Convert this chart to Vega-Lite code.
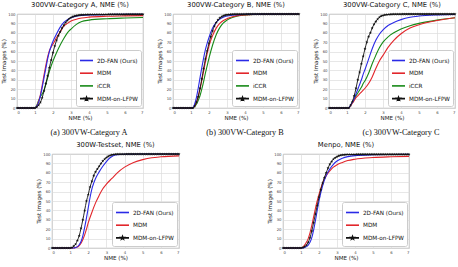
{
  "$schema": "https://vega.github.io/schema/vega-lite/v6.json",
  "padding": {"left": 0, "top": 1, "right": 0, "bottom": 0},
  "background": "white",
  "datasets": {
    "a_fan": [{"nme":0,"pct":0},{"nme":1,"pct":0},{"nme":1.1,"pct":2},{"nme":1.2,"pct":6},{"nme":1.3,"pct":13},{"nme":1.4,"pct":22},{"nme":1.5,"pct":32},{"nme":1.6,"pct":42},{"nme":1.7,"pct":52},{"nme":1.8,"pct":60},{"nme":1.9,"pct":66},{"nme":2,"pct":71},{"nme":2.2,"pct":79},{"nme":2.4,"pct":86},{"nme":2.6,"pct":91},{"nme":2.8,"pct":94},{"nme":3,"pct":96},{"nme":3.3,"pct":97.7},{"nme":3.6,"pct":98.5},{"nme":4,"pct":99},{"nme":5,"pct":99.4},{"nme":6,"pct":99.6},{"nme":7,"pct":99.7}],
    "a_mdm": [{"nme":0,"pct":0},{"nme":1,"pct":0},{"nme":1.1,"pct":2},{"nme":1.2,"pct":7},{"nme":1.3,"pct":14},{"nme":1.4,"pct":24},{"nme":1.5,"pct":35},{"nme":1.6,"pct":45},{"nme":1.7,"pct":54},{"nme":1.8,"pct":61},{"nme":1.9,"pct":65},{"nme":2,"pct":68},{"nme":2.2,"pct":75},{"nme":2.4,"pct":81},{"nme":2.6,"pct":87},{"nme":2.8,"pct":90},{"nme":3,"pct":92.5},{"nme":3.3,"pct":94.5},{"nme":3.6,"pct":95.8},{"nme":4,"pct":96.7},{"nme":5,"pct":97.6},{"nme":6,"pct":98},{"nme":7,"pct":98.3}],
    "a_iccr": [{"nme":0,"pct":0},{"nme":1,"pct":0},{"nme":1.1,"pct":3},{"nme":1.2,"pct":8},{"nme":1.3,"pct":12},{"nme":1.4,"pct":15},{"nme":1.5,"pct":19},{"nme":1.6,"pct":25},{"nme":1.7,"pct":32},{"nme":1.8,"pct":39},{"nme":1.9,"pct":45},{"nme":2,"pct":50},{"nme":2.2,"pct":59},{"nme":2.4,"pct":67},{"nme":2.6,"pct":74},{"nme":2.8,"pct":80},{"nme":3,"pct":84},{"nme":3.3,"pct":89},{"nme":3.6,"pct":92},{"nme":4,"pct":93.5},{"nme":5,"pct":95},{"nme":6,"pct":95.7},{"nme":7,"pct":96.2}],
    "a_lfpw": [{"nme":0,"pct":0},{"nme":0.1,"pct":0},{"nme":0.2,"pct":0},{"nme":0.3,"pct":0},{"nme":0.4,"pct":0},{"nme":0.5,"pct":0},{"nme":0.6,"pct":0},{"nme":0.7,"pct":0},{"nme":0.8,"pct":0},{"nme":0.9,"pct":0},{"nme":1,"pct":0},{"nme":1.1,"pct":1},{"nme":1.2,"pct":3},{"nme":1.3,"pct":6},{"nme":1.4,"pct":11},{"nme":1.5,"pct":18},{"nme":1.6,"pct":26},{"nme":1.7,"pct":34},{"nme":1.8,"pct":43},{"nme":1.9,"pct":51},{"nme":2,"pct":59},{"nme":2.1,"pct":66},{"nme":2.2,"pct":72},{"nme":2.3,"pct":77},{"nme":2.4,"pct":81},{"nme":2.5,"pct":85},{"nme":2.6,"pct":88},{"nme":2.7,"pct":91},{"nme":2.8,"pct":93},{"nme":2.9,"pct":95},{"nme":3,"pct":96.3},{"nme":3.1,"pct":97.2},{"nme":3.2,"pct":97.8},{"nme":3.3,"pct":98.3},{"nme":3.4,"pct":98.6},{"nme":3.5,"pct":98.9},{"nme":3.6,"pct":99.1},{"nme":3.7,"pct":99.2},{"nme":3.8,"pct":99.3},{"nme":3.9,"pct":99.4},{"nme":4,"pct":99.4},{"nme":4.1,"pct":99.5},{"nme":4.2,"pct":99.5},{"nme":4.3,"pct":99.5},{"nme":4.4,"pct":99.5},{"nme":4.5,"pct":99.5},{"nme":4.6,"pct":99.5},{"nme":4.7,"pct":99.5},{"nme":4.8,"pct":99.5},{"nme":4.9,"pct":99.5},{"nme":5,"pct":99.5},{"nme":5.1,"pct":99.6},{"nme":5.2,"pct":99.6},{"nme":5.3,"pct":99.6},{"nme":5.4,"pct":99.6},{"nme":5.5,"pct":99.6},{"nme":5.6,"pct":99.6},{"nme":5.7,"pct":99.6},{"nme":5.8,"pct":99.6},{"nme":5.9,"pct":99.6},{"nme":6,"pct":99.6},{"nme":6.1,"pct":99.7},{"nme":6.2,"pct":99.7},{"nme":6.3,"pct":99.7},{"nme":6.4,"pct":99.7},{"nme":6.5,"pct":99.7},{"nme":6.6,"pct":99.7},{"nme":6.7,"pct":99.7},{"nme":6.8,"pct":99.7},{"nme":6.9,"pct":99.7},{"nme":7,"pct":99.7}],
    "b_fan": [{"nme":0,"pct":0},{"nme":1.1,"pct":0},{"nme":1.2,"pct":4},{"nme":1.3,"pct":11},{"nme":1.4,"pct":21},{"nme":1.5,"pct":32},{"nme":1.6,"pct":43},{"nme":1.7,"pct":53},{"nme":1.8,"pct":62},{"nme":1.9,"pct":69},{"nme":2,"pct":75},{"nme":2.2,"pct":85},{"nme":2.4,"pct":91},{"nme":2.6,"pct":94.5},{"nme":2.8,"pct":96.5},{"nme":3,"pct":97.8},{"nme":3.3,"pct":98.8},{"nme":3.6,"pct":99.3},{"nme":4,"pct":99.6},{"nme":5,"pct":99.9},{"nme":7,"pct":100}],
    "b_mdm": [{"nme":0,"pct":0},{"nme":1.1,"pct":0},{"nme":1.2,"pct":2},{"nme":1.3,"pct":6},{"nme":1.4,"pct":12},{"nme":1.5,"pct":20},{"nme":1.6,"pct":29},{"nme":1.7,"pct":39},{"nme":1.8,"pct":49},{"nme":1.9,"pct":58},{"nme":2,"pct":66},{"nme":2.2,"pct":77},{"nme":2.4,"pct":85},{"nme":2.6,"pct":90},{"nme":2.8,"pct":93},{"nme":3,"pct":95},{"nme":3.3,"pct":97},{"nme":3.6,"pct":98.3},{"nme":4,"pct":99.1},{"nme":5,"pct":99.8},{"nme":7,"pct":100}],
    "b_iccr": [{"nme":0,"pct":0},{"nme":1.1,"pct":0},{"nme":1.2,"pct":1.5},{"nme":1.3,"pct":4},{"nme":1.4,"pct":8},{"nme":1.5,"pct":13},{"nme":1.6,"pct":20},{"nme":1.7,"pct":28},{"nme":1.8,"pct":37},{"nme":1.9,"pct":45},{"nme":2,"pct":53},{"nme":2.2,"pct":67},{"nme":2.4,"pct":78},{"nme":2.6,"pct":85.5},{"nme":2.8,"pct":90.5},{"nme":3,"pct":93.5},{"nme":3.3,"pct":96.3},{"nme":3.6,"pct":98},{"nme":4,"pct":99},{"nme":5,"pct":99.8},{"nme":7,"pct":100}],
    "b_lfpw": [{"nme":0,"pct":0},{"nme":0.1,"pct":0},{"nme":0.2,"pct":0},{"nme":0.3,"pct":0},{"nme":0.4,"pct":0},{"nme":0.5,"pct":0},{"nme":0.6,"pct":0},{"nme":0.7,"pct":0},{"nme":0.8,"pct":0},{"nme":0.9,"pct":0},{"nme":1,"pct":0},{"nme":1.1,"pct":0},{"nme":1.2,"pct":2},{"nme":1.3,"pct":6},{"nme":1.4,"pct":12},{"nme":1.5,"pct":21},{"nme":1.6,"pct":31},{"nme":1.7,"pct":42},{"nme":1.8,"pct":52},{"nme":1.9,"pct":61},{"nme":2,"pct":69},{"nme":2.1,"pct":76},{"nme":2.2,"pct":82},{"nme":2.3,"pct":87},{"nme":2.4,"pct":91},{"nme":2.5,"pct":93.8},{"nme":2.6,"pct":95.8},{"nme":2.7,"pct":97.2},{"nme":2.8,"pct":98.1},{"nme":2.9,"pct":98.8},{"nme":3,"pct":99.2},{"nme":3.1,"pct":99.4},{"nme":3.2,"pct":99.6},{"nme":3.3,"pct":99.7},{"nme":3.4,"pct":99.8},{"nme":3.5,"pct":99.8},{"nme":3.6,"pct":99.8},{"nme":3.7,"pct":99.8},{"nme":3.8,"pct":99.8},{"nme":3.9,"pct":99.8},{"nme":4,"pct":99.8},{"nme":4.1,"pct":99.9},{"nme":4.2,"pct":99.9},{"nme":4.3,"pct":99.9},{"nme":4.4,"pct":99.9},{"nme":4.5,"pct":99.9},{"nme":4.6,"pct":99.9},{"nme":4.7,"pct":99.9},{"nme":4.8,"pct":99.9},{"nme":4.9,"pct":99.9},{"nme":5,"pct":99.9},{"nme":5.1,"pct":99.9},{"nme":5.2,"pct":99.9},{"nme":5.3,"pct":99.9},{"nme":5.4,"pct":99.9},{"nme":5.5,"pct":99.9},{"nme":5.6,"pct":99.9},{"nme":5.7,"pct":99.9},{"nme":5.8,"pct":99.9},{"nme":5.9,"pct":99.9},{"nme":6,"pct":99.9},{"nme":6.1,"pct":99.9},{"nme":6.2,"pct":99.9},{"nme":6.3,"pct":99.9},{"nme":6.4,"pct":99.9},{"nme":6.5,"pct":99.9},{"nme":6.6,"pct":99.9},{"nme":6.7,"pct":99.9},{"nme":6.8,"pct":99.9},{"nme":6.9,"pct":99.9},{"nme":7,"pct":99.9}],
    "c_fan": [{"nme":0,"pct":0},{"nme":1.1,"pct":0},{"nme":1.2,"pct":3},{"nme":1.3,"pct":6},{"nme":1.4,"pct":10},{"nme":1.5,"pct":15},{"nme":1.6,"pct":20},{"nme":1.7,"pct":25},{"nme":1.8,"pct":30},{"nme":1.9,"pct":36},{"nme":2,"pct":41},{"nme":2.2,"pct":52},{"nme":2.4,"pct":63},{"nme":2.6,"pct":72},{"nme":2.8,"pct":78.5},{"nme":3,"pct":83},{"nme":3.3,"pct":88},{"nme":3.6,"pct":91},{"nme":4,"pct":94},{"nme":4.5,"pct":96.5},{"nme":5,"pct":97.8},{"nme":6,"pct":99},{"nme":7,"pct":99.5}],
    "c_mdm": [{"nme":0,"pct":0},{"nme":1.1,"pct":0},{"nme":1.2,"pct":2.5},{"nme":1.3,"pct":5},{"nme":1.4,"pct":8},{"nme":1.5,"pct":11},{"nme":1.6,"pct":13},{"nme":1.7,"pct":15},{"nme":1.8,"pct":17},{"nme":1.9,"pct":19},{"nme":2,"pct":21},{"nme":2.2,"pct":26},{"nme":2.4,"pct":33},{"nme":2.6,"pct":42},{"nme":2.8,"pct":50},{"nme":3,"pct":56},{"nme":3.3,"pct":65},{"nme":3.6,"pct":72},{"nme":4,"pct":79},{"nme":4.5,"pct":85},{"nme":5,"pct":88.5},{"nme":6,"pct":93},{"nme":7,"pct":96}],
    "c_iccr": [{"nme":0,"pct":0},{"nme":1.1,"pct":0},{"nme":1.2,"pct":3},{"nme":1.3,"pct":6},{"nme":1.4,"pct":9},{"nme":1.5,"pct":13},{"nme":1.6,"pct":16},{"nme":1.7,"pct":19},{"nme":1.8,"pct":22},{"nme":1.9,"pct":26},{"nme":2,"pct":29},{"nme":2.2,"pct":37},{"nme":2.4,"pct":47},{"nme":2.6,"pct":56},{"nme":2.8,"pct":64},{"nme":3,"pct":70},{"nme":3.3,"pct":76},{"nme":3.6,"pct":80},{"nme":4,"pct":84},{"nme":4.5,"pct":87.5},{"nme":5,"pct":90},{"nme":6,"pct":93.5},{"nme":7,"pct":96}],
    "c_lfpw": [{"nme":0,"pct":0},{"nme":0.1,"pct":0},{"nme":0.2,"pct":0},{"nme":0.3,"pct":0},{"nme":0.4,"pct":0},{"nme":0.5,"pct":0},{"nme":0.6,"pct":0},{"nme":0.7,"pct":0},{"nme":0.8,"pct":0},{"nme":0.9,"pct":0},{"nme":1,"pct":0},{"nme":1.1,"pct":0},{"nme":1.2,"pct":3},{"nme":1.3,"pct":7},{"nme":1.4,"pct":13},{"nme":1.5,"pct":21},{"nme":1.6,"pct":30},{"nme":1.7,"pct":38},{"nme":1.8,"pct":47},{"nme":1.9,"pct":55},{"nme":2,"pct":63},{"nme":2.1,"pct":70},{"nme":2.2,"pct":76},{"nme":2.3,"pct":80},{"nme":2.4,"pct":85},{"nme":2.5,"pct":89},{"nme":2.6,"pct":92},{"nme":2.7,"pct":94.5},{"nme":2.8,"pct":96.5},{"nme":2.9,"pct":97.8},{"nme":3,"pct":98.5},{"nme":3.1,"pct":99},{"nme":3.2,"pct":99.3},{"nme":3.3,"pct":99.5},{"nme":3.4,"pct":99.6},{"nme":3.5,"pct":99.7},{"nme":3.6,"pct":99.8},{"nme":3.7,"pct":99.8},{"nme":3.8,"pct":99.8},{"nme":3.9,"pct":99.8},{"nme":4,"pct":99.8},{"nme":4.1,"pct":99.9},{"nme":4.2,"pct":99.9},{"nme":4.3,"pct":99.9},{"nme":4.4,"pct":99.9},{"nme":4.5,"pct":99.9},{"nme":4.6,"pct":99.9},{"nme":4.7,"pct":99.9},{"nme":4.8,"pct":99.9},{"nme":4.9,"pct":99.9},{"nme":5,"pct":99.9},{"nme":5.1,"pct":99.9},{"nme":5.2,"pct":99.9},{"nme":5.3,"pct":99.9},{"nme":5.4,"pct":99.9},{"nme":5.5,"pct":99.9},{"nme":5.6,"pct":99.9},{"nme":5.7,"pct":99.9},{"nme":5.8,"pct":99.9},{"nme":5.9,"pct":99.9},{"nme":6,"pct":99.9},{"nme":6.1,"pct":99.9},{"nme":6.2,"pct":99.9},{"nme":6.3,"pct":99.9},{"nme":6.4,"pct":99.9},{"nme":6.5,"pct":99.9},{"nme":6.6,"pct":99.9},{"nme":6.7,"pct":99.9},{"nme":6.8,"pct":99.9},{"nme":6.9,"pct":99.9},{"nme":7,"pct":99.9}],
    "t_fan": [{"nme":0,"pct":0},{"nme":1.2,"pct":0},{"nme":1.3,"pct":0.5},{"nme":1.4,"pct":1.5},{"nme":1.5,"pct":3.5},{"nme":1.6,"pct":7},{"nme":1.7,"pct":13},{"nme":1.8,"pct":22},{"nme":1.9,"pct":32},{"nme":2,"pct":43},{"nme":2.1,"pct":54},{"nme":2.2,"pct":63},{"nme":2.3,"pct":69},{"nme":2.4,"pct":74},{"nme":2.6,"pct":81},{"nme":2.8,"pct":87},{"nme":3,"pct":92},{"nme":3.2,"pct":96},{"nme":3.4,"pct":98.5},{"nme":3.6,"pct":99.3},{"nme":4,"pct":99.7},{"nme":5,"pct":100},{"nme":7,"pct":100}],
    "t_mdm": [{"nme":0,"pct":0},{"nme":1.2,"pct":0},{"nme":1.3,"pct":0.5},{"nme":1.4,"pct":1},{"nme":1.5,"pct":2.5},{"nme":1.6,"pct":5},{"nme":1.7,"pct":9},{"nme":1.8,"pct":14},{"nme":1.9,"pct":20},{"nme":2,"pct":27},{"nme":2.2,"pct":38},{"nme":2.4,"pct":48},{"nme":2.6,"pct":56},{"nme":2.8,"pct":63},{"nme":3,"pct":68},{"nme":3.3,"pct":74},{"nme":3.6,"pct":80},{"nme":4,"pct":86},{"nme":4.5,"pct":91},{"nme":5,"pct":94},{"nme":5.5,"pct":96},{"nme":6,"pct":97},{"nme":7,"pct":98}],
    "t_lfpw": [{"nme":0,"pct":0},{"nme":0.1,"pct":0},{"nme":0.2,"pct":0},{"nme":0.3,"pct":0},{"nme":0.4,"pct":0},{"nme":0.5,"pct":0},{"nme":0.6,"pct":0},{"nme":0.7,"pct":0},{"nme":0.8,"pct":0},{"nme":0.9,"pct":0},{"nme":1,"pct":0},{"nme":1.1,"pct":0.5},{"nme":1.2,"pct":2},{"nme":1.3,"pct":4},{"nme":1.4,"pct":8},{"nme":1.5,"pct":13},{"nme":1.6,"pct":21},{"nme":1.7,"pct":30},{"nme":1.8,"pct":40},{"nme":1.9,"pct":50},{"nme":2,"pct":57},{"nme":2.1,"pct":65},{"nme":2.2,"pct":71},{"nme":2.3,"pct":77},{"nme":2.4,"pct":81},{"nme":2.5,"pct":84},{"nme":2.6,"pct":87},{"nme":2.7,"pct":90},{"nme":2.8,"pct":92.5},{"nme":2.9,"pct":94.5},{"nme":3,"pct":96.2},{"nme":3.1,"pct":97.5},{"nme":3.2,"pct":98.5},{"nme":3.3,"pct":99.1},{"nme":3.4,"pct":99.5},{"nme":3.5,"pct":99.7},{"nme":3.6,"pct":99.8},{"nme":3.7,"pct":99.8},{"nme":3.8,"pct":99.8},{"nme":3.9,"pct":99.8},{"nme":4,"pct":99.8},{"nme":4.1,"pct":99.9},{"nme":4.2,"pct":99.9},{"nme":4.3,"pct":99.9},{"nme":4.4,"pct":99.9},{"nme":4.5,"pct":99.9},{"nme":4.6,"pct":99.9},{"nme":4.7,"pct":99.9},{"nme":4.8,"pct":99.9},{"nme":4.9,"pct":99.9},{"nme":5,"pct":99.9},{"nme":5.1,"pct":99.9},{"nme":5.2,"pct":99.9},{"nme":5.3,"pct":99.9},{"nme":5.4,"pct":99.9},{"nme":5.5,"pct":99.9},{"nme":5.6,"pct":99.9},{"nme":5.7,"pct":99.9},{"nme":5.8,"pct":99.9},{"nme":5.9,"pct":99.9},{"nme":6,"pct":99.9},{"nme":6.1,"pct":99.9},{"nme":6.2,"pct":99.9},{"nme":6.3,"pct":99.9},{"nme":6.4,"pct":99.9},{"nme":6.5,"pct":99.9},{"nme":6.6,"pct":99.9},{"nme":6.7,"pct":99.9},{"nme":6.8,"pct":99.9},{"nme":6.9,"pct":99.9},{"nme":7,"pct":99.9}],
    "m_fan": [{"nme":0,"pct":0},{"nme":1.1,"pct":0},{"nme":1.2,"pct":0.5},{"nme":1.3,"pct":1.5},{"nme":1.4,"pct":3},{"nme":1.5,"pct":6},{"nme":1.6,"pct":11},{"nme":1.7,"pct":19},{"nme":1.8,"pct":29},{"nme":1.9,"pct":40},{"nme":2,"pct":50},{"nme":2.2,"pct":66},{"nme":2.4,"pct":77},{"nme":2.6,"pct":84},{"nme":2.8,"pct":89},{"nme":3,"pct":92.5},{"nme":3.3,"pct":95.5},{"nme":3.6,"pct":97.2},{"nme":4,"pct":98.3},{"nme":5,"pct":99.2},{"nme":6,"pct":99.5},{"nme":7,"pct":99.6}],
    "m_mdm": [{"nme":0,"pct":0},{"nme":1,"pct":0},{"nme":1.1,"pct":1},{"nme":1.2,"pct":3},{"nme":1.3,"pct":6},{"nme":1.4,"pct":10},{"nme":1.5,"pct":16},{"nme":1.6,"pct":24},{"nme":1.7,"pct":33},{"nme":1.8,"pct":42},{"nme":1.9,"pct":50},{"nme":2,"pct":57},{"nme":2.2,"pct":69},{"nme":2.4,"pct":77},{"nme":2.6,"pct":82},{"nme":2.8,"pct":86},{"nme":3,"pct":88.5},{"nme":3.3,"pct":91},{"nme":3.6,"pct":93},{"nme":4,"pct":94.5},{"nme":5,"pct":96.2},{"nme":6,"pct":97},{"nme":7,"pct":97.5}],
    "m_lfpw": [{"nme":0,"pct":0},{"nme":0.1,"pct":0},{"nme":0.2,"pct":0},{"nme":0.3,"pct":0},{"nme":0.4,"pct":0},{"nme":0.5,"pct":0},{"nme":0.6,"pct":0},{"nme":0.7,"pct":0},{"nme":0.8,"pct":0},{"nme":0.9,"pct":0},{"nme":1,"pct":0},{"nme":1.1,"pct":0.5},{"nme":1.2,"pct":1.5},{"nme":1.3,"pct":3},{"nme":1.4,"pct":6},{"nme":1.5,"pct":11},{"nme":1.6,"pct":18},{"nme":1.7,"pct":27},{"nme":1.8,"pct":36},{"nme":1.9,"pct":45},{"nme":2,"pct":54},{"nme":2.1,"pct":62},{"nme":2.2,"pct":69},{"nme":2.3,"pct":75},{"nme":2.4,"pct":80},{"nme":2.5,"pct":85},{"nme":2.6,"pct":89},{"nme":2.7,"pct":92},{"nme":2.8,"pct":94.5},{"nme":2.9,"pct":96},{"nme":3,"pct":97.2},{"nme":3.1,"pct":98},{"nme":3.2,"pct":98.6},{"nme":3.3,"pct":99},{"nme":3.4,"pct":99.2},{"nme":3.5,"pct":99.4},{"nme":3.6,"pct":99.5},{"nme":3.7,"pct":99.5},{"nme":3.8,"pct":99.5},{"nme":3.9,"pct":99.5},{"nme":4,"pct":99.5},{"nme":4.1,"pct":99.6},{"nme":4.2,"pct":99.6},{"nme":4.3,"pct":99.6},{"nme":4.4,"pct":99.6},{"nme":4.5,"pct":99.6},{"nme":4.6,"pct":99.6},{"nme":4.7,"pct":99.6},{"nme":4.8,"pct":99.6},{"nme":4.9,"pct":99.6},{"nme":5,"pct":99.6},{"nme":5.1,"pct":99.6},{"nme":5.2,"pct":99.6},{"nme":5.3,"pct":99.6},{"nme":5.4,"pct":99.6},{"nme":5.5,"pct":99.6},{"nme":5.6,"pct":99.6},{"nme":5.7,"pct":99.6},{"nme":5.8,"pct":99.6},{"nme":5.9,"pct":99.6},{"nme":6,"pct":99.6},{"nme":6.1,"pct":99.6},{"nme":6.2,"pct":99.6},{"nme":6.3,"pct":99.6},{"nme":6.4,"pct":99.6},{"nme":6.5,"pct":99.6},{"nme":6.6,"pct":99.6},{"nme":6.7,"pct":99.6},{"nme":6.8,"pct":99.6},{"nme":6.9,"pct":99.6},{"nme":7,"pct":99.6}]
  },
  "spacing": 3,
  "resolve": {"scale": {"color": "independent"}, "legend": {"color": "independent"}},
  "vconcat": [
    {
      "spacing": 6,
      "resolve": {"scale": {"color": "independent"}, "legend": {"color": "independent"}},
      "vconcat": [
        {
          "spacing": 30,
          "bounds": "flush",
          "resolve": {"scale": {"color": "independent"}, "legend": {"color": "independent"}},
          "hconcat": [
            {
              "width": 126, "height": 94,
              "title": "300VW-Category A, NME (%)",
              "encoding": {
                "x": {"field": "nme", "type": "quantitative", "scale": {"domain": [0, 7], "nice": false}, "axis": {"values": [0,1,2,3,4,5,6,7], "title": "NME (%)"}},
                "y": {"field": "pct", "type": "quantitative", "scale": {"domain": [0, 100]}, "axis": {"values": [0,10,20,30,40,50,60,70,80,90,100], "title": "Test Images (%)"}}
              },
              "layer": [
                {"data": {"name": "a_iccr"}, "mark": {"type": "line", "interpolate": "monotone", "strokeWidth": 1.1}, "encoding": {"color": {"datum": "iCCR", "type": "nominal", "scale": {"domain": ["2D-FAN (Ours)", "MDM", "iCCR", "MDM-on-LFPW"], "range": ["#2a2ae6", "#e2262b", "#178a17", "#111111"]}, "legend": {"title": null, "orient": "bottom-right", "offset": 2, "symbolType": "stroke", "encode": {"symbols": {"update": {"shape": {"signal": "datum.value === 'MDM-on-LFPW' ? 'M-1,0H1M0,-0.2L0.05,-0.06L0.19,-0.06L0.08,0.02L0.12,0.16L0,0.08L-0.12,0.16L-0.08,0.02L-0.19,-0.06L-0.05,-0.06Z' : 'stroke'"}, "fill": {"signal": "datum.value === 'MDM-on-LFPW' ? '#111111' : 'transparent'"}}}}}}}},
                {"data": {"name": "a_mdm"}, "mark": {"type": "line", "interpolate": "monotone", "strokeWidth": 1.1}, "encoding": {"color": {"datum": "MDM", "type": "nominal"}}},
                {"data": {"name": "a_fan"}, "mark": {"type": "line", "interpolate": "monotone", "strokeWidth": 1.1}, "encoding": {"color": {"datum": "2D-FAN (Ours)", "type": "nominal"}}},
                {"data": {"name": "a_lfpw"}, "mark": {"type": "line", "interpolate": "monotone", "strokeWidth": 0.9}, "encoding": {"color": {"datum": "MDM-on-LFPW", "type": "nominal"}}},
                {"data": {"name": "a_lfpw"}, "mark": {"type": "point", "filled": true, "size": 10, "opacity": 1, "shape": "M0,-1L0.24,-0.32L0.95,-0.31L0.38,0.12L0.59,0.81L0,0.4L-0.59,0.81L-0.38,0.12L-0.95,-0.31L-0.24,-0.32Z"}, "encoding": {"color": {"datum": "MDM-on-LFPW", "type": "nominal"}}}
              ]
            },
            {
              "width": 126, "height": 94,
              "title": "300VW-Category B, NME (%)",
              "encoding": {
                "x": {"field": "nme", "type": "quantitative", "scale": {"domain": [0, 7], "nice": false}, "axis": {"values": [0,1,2,3,4,5,6,7], "title": "NME (%)"}},
                "y": {"field": "pct", "type": "quantitative", "scale": {"domain": [0, 100]}, "axis": {"values": [0,10,20,30,40,50,60,70,80,90,100], "title": "Test Images (%)"}}
              },
              "layer": [
                {"data": {"name": "b_iccr"}, "mark": {"type": "line", "interpolate": "monotone", "strokeWidth": 1.1}, "encoding": {"color": {"datum": "iCCR", "type": "nominal", "scale": {"domain": ["2D-FAN (Ours)", "MDM", "iCCR", "MDM-on-LFPW"], "range": ["#2a2ae6", "#e2262b", "#178a17", "#111111"]}, "legend": {"title": null, "orient": "bottom-right", "offset": 2, "symbolType": "stroke", "encode": {"symbols": {"update": {"shape": {"signal": "datum.value === 'MDM-on-LFPW' ? 'M-1,0H1M0,-0.2L0.05,-0.06L0.19,-0.06L0.08,0.02L0.12,0.16L0,0.08L-0.12,0.16L-0.08,0.02L-0.19,-0.06L-0.05,-0.06Z' : 'stroke'"}, "fill": {"signal": "datum.value === 'MDM-on-LFPW' ? '#111111' : 'transparent'"}}}}}}}},
                {"data": {"name": "b_mdm"}, "mark": {"type": "line", "interpolate": "monotone", "strokeWidth": 1.1}, "encoding": {"color": {"datum": "MDM", "type": "nominal"}}},
                {"data": {"name": "b_fan"}, "mark": {"type": "line", "interpolate": "monotone", "strokeWidth": 1.1}, "encoding": {"color": {"datum": "2D-FAN (Ours)", "type": "nominal"}}},
                {"data": {"name": "b_lfpw"}, "mark": {"type": "line", "interpolate": "monotone", "strokeWidth": 0.9}, "encoding": {"color": {"datum": "MDM-on-LFPW", "type": "nominal"}}},
                {"data": {"name": "b_lfpw"}, "mark": {"type": "point", "filled": true, "size": 10, "opacity": 1, "shape": "M0,-1L0.24,-0.32L0.95,-0.31L0.38,0.12L0.59,0.81L0,0.4L-0.59,0.81L-0.38,0.12L-0.95,-0.31L-0.24,-0.32Z"}, "encoding": {"color": {"datum": "MDM-on-LFPW", "type": "nominal"}}}
              ]
            },
            {
              "width": 126, "height": 94,
              "title": "300VW-Category C, NME (%)",
              "encoding": {
                "x": {"field": "nme", "type": "quantitative", "scale": {"domain": [0, 7], "nice": false}, "axis": {"values": [0,1,2,3,4,5,6,7], "title": "NME (%)"}},
                "y": {"field": "pct", "type": "quantitative", "scale": {"domain": [0, 100]}, "axis": {"values": [0,10,20,30,40,50,60,70,80,90,100], "title": "Test Images (%)"}}
              },
              "layer": [
                {"data": {"name": "c_iccr"}, "mark": {"type": "line", "interpolate": "monotone", "strokeWidth": 1.1}, "encoding": {"color": {"datum": "iCCR", "type": "nominal", "scale": {"domain": ["2D-FAN (Ours)", "MDM", "iCCR", "MDM-on-LFPW"], "range": ["#2a2ae6", "#e2262b", "#178a17", "#111111"]}, "legend": {"title": null, "orient": "bottom-right", "offset": 2, "symbolType": "stroke", "encode": {"symbols": {"update": {"shape": {"signal": "datum.value === 'MDM-on-LFPW' ? 'M-1,0H1M0,-0.2L0.05,-0.06L0.19,-0.06L0.08,0.02L0.12,0.16L0,0.08L-0.12,0.16L-0.08,0.02L-0.19,-0.06L-0.05,-0.06Z' : 'stroke'"}, "fill": {"signal": "datum.value === 'MDM-on-LFPW' ? '#111111' : 'transparent'"}}}}}}}},
                {"data": {"name": "c_mdm"}, "mark": {"type": "line", "interpolate": "monotone", "strokeWidth": 1.1}, "encoding": {"color": {"datum": "MDM", "type": "nominal"}}},
                {"data": {"name": "c_fan"}, "mark": {"type": "line", "interpolate": "monotone", "strokeWidth": 1.1}, "encoding": {"color": {"datum": "2D-FAN (Ours)", "type": "nominal"}}},
                {"data": {"name": "c_lfpw"}, "mark": {"type": "line", "interpolate": "monotone", "strokeWidth": 0.9}, "encoding": {"color": {"datum": "MDM-on-LFPW", "type": "nominal"}}},
                {"data": {"name": "c_lfpw"}, "mark": {"type": "point", "filled": true, "size": 10, "opacity": 1, "shape": "M0,-1L0.24,-0.32L0.95,-0.31L0.38,0.12L0.59,0.81L0,0.4L-0.59,0.81L-0.38,0.12L-0.95,-0.31L-0.24,-0.32Z"}, "encoding": {"color": {"datum": "MDM-on-LFPW", "type": "nominal"}}}
              ]
            }
          ]
        },
        {
          "spacing": 12,
          "bounds": "flush",
          "hconcat": [
            {"width": 144, "height": 10, "view": {"stroke": null}, "data": {"values": [{"caption": "(a) 300VW-Category A"}]}, "mark": {"type": "text", "font": "Liberation Serif", "fontSize": 8.2, "color": "#111111"}, "encoding": {"text": {"field": "caption", "type": "nominal"}}},
            {"width": 144, "height": 10, "view": {"stroke": null}, "data": {"values": [{"caption": "(b) 300VW-Category B"}]}, "mark": {"type": "text", "font": "Liberation Serif", "fontSize": 8.2, "color": "#111111"}, "encoding": {"text": {"field": "caption", "type": "nominal"}}},
            {"width": 144, "height": 10, "view": {"stroke": null}, "data": {"values": [{"caption": "(c) 300VW-Category C"}]}, "mark": {"type": "text", "font": "Liberation Serif", "fontSize": 8.2, "color": "#111111"}, "encoding": {"text": {"field": "caption", "type": "nominal"}}}
          ]
        }
      ]
    },
    {
      "spacing": 30,
      "bounds": "flush",
      "resolve": {"scale": {"color": "independent"}, "legend": {"color": "independent"}},
      "hconcat": [
        {"width": 5, "height": 94, "view": {"stroke": null}, "data": {"values": [{}]}, "mark": {"type": "point", "opacity": 0}, "encoding": {}},
        {
          "width": 127, "height": 94,
          "title": "300W-Testset, NME (%)",
          "encoding": {
            "x": {"field": "nme", "type": "quantitative", "scale": {"domain": [0, 7], "nice": false}, "axis": {"values": [0,1,2,3,4,5,6,7], "title": "NME (%)"}},
            "y": {"field": "pct", "type": "quantitative", "scale": {"domain": [0, 100]}, "axis": {"values": [0,10,20,30,40,50,60,70,80,90,100], "title": "Test Images (%)"}}
          },
          "layer": [
            {"data": {"name": "t_mdm"}, "mark": {"type": "line", "interpolate": "monotone", "strokeWidth": 1.1}, "encoding": {"color": {"datum": "MDM", "type": "nominal", "scale": {"domain": ["2D-FAN (Ours)", "MDM", "MDM-on-LFPW"], "range": ["#2a2ae6", "#e2262b", "#111111"]}, "legend": {"title": null, "orient": "bottom-right", "offset": 2, "symbolType": "stroke", "encode": {"symbols": {"update": {"shape": {"signal": "datum.value === 'MDM-on-LFPW' ? 'M-1,0H1M0,-0.2L0.05,-0.06L0.19,-0.06L0.08,0.02L0.12,0.16L0,0.08L-0.12,0.16L-0.08,0.02L-0.19,-0.06L-0.05,-0.06Z' : 'stroke'"}, "fill": {"signal": "datum.value === 'MDM-on-LFPW' ? '#111111' : 'transparent'"}}}}}}}},
            {"data": {"name": "t_fan"}, "mark": {"type": "line", "interpolate": "monotone", "strokeWidth": 1.1}, "encoding": {"color": {"datum": "2D-FAN (Ours)", "type": "nominal"}}},
            {"data": {"name": "t_lfpw"}, "mark": {"type": "line", "interpolate": "monotone", "strokeWidth": 0.9}, "encoding": {"color": {"datum": "MDM-on-LFPW", "type": "nominal"}}},
            {"data": {"name": "t_lfpw"}, "mark": {"type": "point", "filled": true, "size": 10, "opacity": 1, "shape": "M0,-1L0.24,-0.32L0.95,-0.31L0.38,0.12L0.59,0.81L0,0.4L-0.59,0.81L-0.38,0.12L-0.95,-0.31L-0.24,-0.32Z"}, "encoding": {"color": {"datum": "MDM-on-LFPW", "type": "nominal"}}}
          ]
        },
        {"width": 44, "height": 94, "view": {"stroke": null}, "data": {"values": [{}]}, "mark": {"type": "point", "opacity": 0}, "encoding": {}},
        {
          "width": 126, "height": 94,
          "title": "Menpo, NME (%)",
          "encoding": {
            "x": {"field": "nme", "type": "quantitative", "scale": {"domain": [0, 7], "nice": false}, "axis": {"values": [0,1,2,3,4,5,6,7], "title": "NME (%)"}},
            "y": {"field": "pct", "type": "quantitative", "scale": {"domain": [0, 100]}, "axis": {"values": [0,10,20,30,40,50,60,70,80,90,100], "title": "Test Images (%)"}}
          },
          "layer": [
            {"data": {"name": "m_mdm"}, "mark": {"type": "line", "interpolate": "monotone", "strokeWidth": 1.1}, "encoding": {"color": {"datum": "MDM", "type": "nominal", "scale": {"domain": ["2D-FAN (Ours)", "MDM", "MDM-on-LFPW"], "range": ["#2a2ae6", "#e2262b", "#111111"]}, "legend": {"title": null, "orient": "bottom-right", "offset": 2, "symbolType": "stroke", "encode": {"symbols": {"update": {"shape": {"signal": "datum.value === 'MDM-on-LFPW' ? 'M-1,0H1M0,-0.2L0.05,-0.06L0.19,-0.06L0.08,0.02L0.12,0.16L0,0.08L-0.12,0.16L-0.08,0.02L-0.19,-0.06L-0.05,-0.06Z' : 'stroke'"}, "fill": {"signal": "datum.value === 'MDM-on-LFPW' ? '#111111' : 'transparent'"}}}}}}}},
            {"data": {"name": "m_fan"}, "mark": {"type": "line", "interpolate": "monotone", "strokeWidth": 1.1}, "encoding": {"color": {"datum": "2D-FAN (Ours)", "type": "nominal"}}},
            {"data": {"name": "m_lfpw"}, "mark": {"type": "line", "interpolate": "monotone", "strokeWidth": 0.9}, "encoding": {"color": {"datum": "MDM-on-LFPW", "type": "nominal"}}},
            {"data": {"name": "m_lfpw"}, "mark": {"type": "point", "filled": true, "size": 10, "opacity": 1, "shape": "M0,-1L0.24,-0.32L0.95,-0.31L0.38,0.12L0.59,0.81L0,0.4L-0.59,0.81L-0.38,0.12L-0.95,-0.31L-0.24,-0.32Z"}, "encoding": {"color": {"datum": "MDM-on-LFPW", "type": "nominal"}}}
          ]
        }
      ]
    }
  ],
  "config": {
    "font": "DejaVu Sans",
    "view": {"stroke": "#9a9a9a", "strokeWidth": 0.8},
    "title": {"fontSize": 6.8, "font": "DejaVu Sans", "fontWeight": "normal", "anchor": "middle", "frame": "group", "offset": 3.5, "color": "#111111"},
    "axis": {"domain": false, "ticks": false, "gridColor": "#dcdcdc", "gridWidth": 0.7, "labelFontSize": 3.8, "labelColor": "#444444", "labelFont": "DejaVu Sans", "titleFont": "DejaVu Sans", "titleFontSize": 5.6, "titleFontWeight": "normal", "titleColor": "#222222", "labelPadding": 2},
    "axisX": {"titlePadding": 1.5},
    "axisY": {"titlePadding": 1.5},
    "legend": {"fillColor": "white", "strokeColor": "#cccccc", "padding": 3, "cornerRadius": 2, "labelFontSize": 5.7, "labelFont": "DejaVu Sans", "labelColor": "#111111", "symbolSize": 169, "symbolStrokeWidth": 1.6, "rowPadding": 1.7, "labelOffset": 3}
  }
}
